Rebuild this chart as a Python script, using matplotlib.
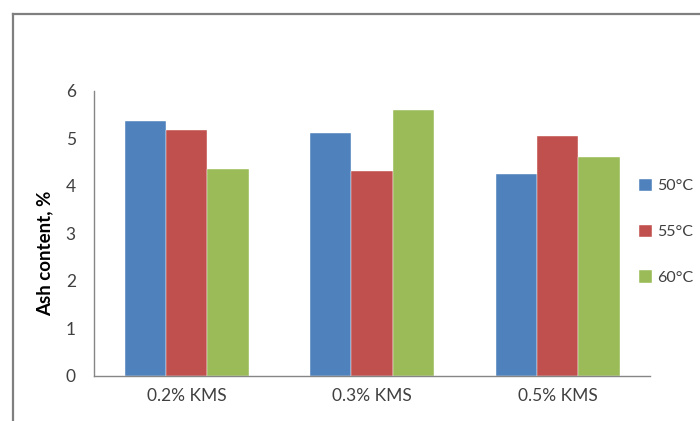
import matplotlib
matplotlib.use("Agg")
import matplotlib.pyplot as plt
import numpy as np
from matplotlib.lines import Line2D

plt.rcParams['font.family'] = ['Lato', 'DejaVu Sans']

categories = ["0.2% KMS", "0.3% KMS", "0.5% KMS"]
series_names = ["50°C", "55°C", "60°C"]
ash_50 = [5.35, 5.10, 4.25]
ash_55 = [5.16, 4.30, 5.04]
ash_60 = [4.34, 5.60, 4.59]
y_ticks = [0, 1, 2, 3, 4, 5, 6]

colors = ["#4F81BD", "#C0504D", "#9BBB59"]
axis_gray = "#868686"
text_color = "#404040"

fig = plt.figure(figsize=(7.0, 4.21), dpi=100)
ax = fig.add_axes([0.134, 0.108, 0.795, 0.677])

x = np.arange(len(categories))
width = 0.223
for i, (vals, name) in enumerate(zip([ash_50, ash_55, ash_60], series_names)):
    ax.bar(x + (i - 1) * width, vals, width, color=colors[i], label=name,
           edgecolor="white", linewidth=0.3)

ax.set_xlim(-0.5, len(categories) - 0.5)
ax.set_ylim(0, 6)
ax.set_yticks(y_ticks)
ax.set_yticklabels([str(t) for t in y_ticks], fontsize=12.5, color=text_color)
ax.set_xticks(x)
ax.set_xticklabels(categories, fontsize=12.5, color=text_color)
ax.tick_params(axis='both', length=0)
ax.tick_params(axis='y', pad=13)
ax.tick_params(axis='x', pad=9)

for side in ["top", "right"]:
    ax.spines[side].set_visible(False)
for side in ["left", "bottom"]:
    ax.spines[side].set_color(axis_gray)
    ax.spines[side].set_linewidth(1.0)

ax.set_ylabel("Ash content, %", fontsize=13.5, fontweight="bold", color="black")
ax.yaxis.set_label_coords(-0.073, 0.43)

leg = fig.legend(loc="center left", bbox_to_anchor=(0.913, 0.449), frameon=False,
                 fontsize=11.5, handlelength=0.8, handleheight=0.8,
                 handletextpad=0.35, labelspacing=1.95, borderaxespad=0.0,
                 borderpad=0.0)
for t in leg.get_texts():
    t.set_color(text_color)

# outer chart frame
frame_kw = dict(color="#7F7F7F", linewidth=1.6, transform=fig.transFigure)
fig.add_artist(Line2D([0.018, 0.018], [0.0, 0.967], **frame_kw))
fig.add_artist(Line2D([0.018, 1.0], [0.967, 0.967], **frame_kw))

fig.savefig("out.png", dpi=100)
